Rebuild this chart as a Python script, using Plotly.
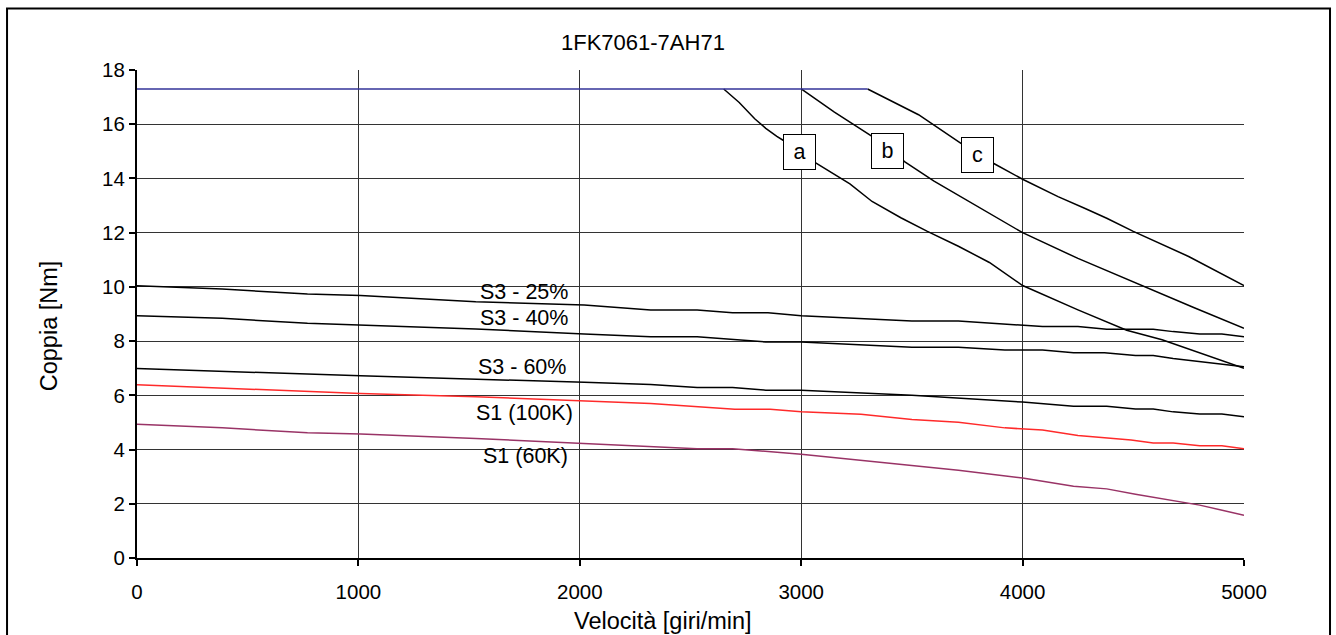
import plotly.graph_objects as go

# ---- data ----
title_text = "1FK7061-7AH71"

flat_x = [0, 3300]
flat_y = [17.3, 17.3]

a_x = [2650, 2720, 2790, 2840, 2890, 2920, 3060, 3130, 3220, 3320, 3450, 3570, 3710, 3850, 4000, 4250, 4470, 4630, 5000]
a_y = [17.3, 16.8, 16.2, 15.85, 15.55, 15.4, 14.6, 14.25, 13.8, 13.15, 12.55, 12.05, 11.5, 10.9, 10.05, 9.15, 8.4, 8.05, 7.0]

b_x = [3000, 3150, 3320, 3470, 3600, 3760, 4000, 4250, 4520, 4770, 5000]
b_y = [17.3, 16.45, 15.55, 14.6, 13.9, 13.15, 12.0, 11.05, 10.1, 9.25, 8.47]

c_x = [3300, 3530, 3720, 3870, 4000, 4160, 4280, 4380, 4500, 4750, 5000]
c_y = [17.3, 16.35, 15.3, 14.55, 13.97, 13.33, 12.9, 12.53, 12.05, 11.12, 10.05]

s3_25_x = [0, 385, 770, 1010, 1530, 2020, 2320, 2530, 2690, 2850, 3000, 3220, 3500, 3710, 4000, 4090, 4250, 4380, 4590, 4680, 4800, 4900, 5000]
s3_25_y = [10.04, 9.92, 9.74, 9.68, 9.45, 9.33, 9.15, 9.15, 9.05, 9.05, 8.94, 8.84, 8.74, 8.74, 8.6, 8.54, 8.54, 8.44, 8.44, 8.35, 8.26, 8.26, 8.16]

s3_40_x = [0, 385, 770, 1010, 1530, 2020, 2320, 2530, 2690, 2840, 3000, 3500, 3710, 3920, 4090, 4230, 4370, 4510, 4590, 4680, 5000]
s3_40_y = [8.94, 8.84, 8.66, 8.59, 8.45, 8.26, 8.16, 8.16, 8.07, 7.97, 7.97, 7.77, 7.77, 7.67, 7.67, 7.57, 7.57, 7.47, 7.47, 7.36, 7.05]

s3_60_x = [0, 1010, 2020, 2320, 2530, 2690, 2840, 3000, 3500, 4000, 4230, 4380, 4510, 4590, 4680, 4800, 4900, 5000]
s3_60_y = [6.99, 6.72, 6.48, 6.40, 6.29, 6.29, 6.19, 6.19, 6.0, 5.75, 5.6, 5.6, 5.5, 5.5, 5.39, 5.31, 5.31, 5.21]

s1_100_x = [0, 1010, 1530, 2020, 2320, 2700, 2860, 3000, 3270, 3500, 3710, 3920, 4090, 4250, 4490, 4590, 4680, 4800, 4900, 5000]
s1_100_y = [6.39, 6.07, 5.95, 5.80, 5.70, 5.49, 5.49, 5.39, 5.30, 5.11, 5.01, 4.80, 4.72, 4.52, 4.35, 4.24, 4.24, 4.14, 4.14, 4.03]

s1_60_x = [0, 385, 770, 1010, 1530, 2020, 2320, 2530, 2690, 3000, 3710, 4000, 4230, 4380, 4510, 4650, 4800, 5000]
s1_60_y = [4.93, 4.80, 4.62, 4.57, 4.41, 4.22, 4.12, 4.03, 4.03, 3.83, 3.24, 2.95, 2.65, 2.55, 2.35, 2.16, 1.95, 1.58]

curve_labels = ["S3 - 25%", "S3 - 40%", "S3 - 60%", "S1 (100K)", "S1 (60K)"]
curve_label_x = [1750, 1748, 1740, 1752, 1755]
curve_label_y = [9.82, 8.85, 7.05, 5.36, 3.77]

box_labels = ["a", "b", "c"]
box_x = [2991, 3392, 3797]
box_y = [14.98, 15.0, 14.88]

x_ticks = [0, 1000, 2000, 3000, 4000, 5000]
y_ticks = [0, 2, 4, 6, 8, 10, 12, 14, 16, 18]

FONT = "Liberation Sans, Arial, sans-serif"

fig = go.Figure()

def add_line(x, y, color):
    fig.add_trace(go.Scatter(x=x, y=y, mode="lines", line=dict(color=color, width=1.5),
                             showlegend=False, hoverinfo="skip"))

add_line(s3_25_x, s3_25_y, "black")
add_line(s3_40_x, s3_40_y, "black")
add_line(s3_60_x, s3_60_y, "black")
add_line(s1_100_x, s1_100_y, "#FF2A2A")
add_line(s1_60_x, s1_60_y, "#993366")
add_line(a_x, a_y, "black")
add_line(b_x, b_y, "black")
add_line(c_x, c_y, "black")
add_line(flat_x, flat_y, "#333399")

for t, x, y in zip(curve_labels, curve_label_x, curve_label_y):
    fig.add_annotation(x=x, y=y, xref="x", yref="y", text=t, showarrow=False,
                       xanchor="center", yanchor="middle",
                       font=dict(family=FONT, size=21.5, color="black"))

for t, x, y in zip(box_labels, box_x, box_y):
    fig.add_annotation(x=x, y=y, xref="x", yref="y", text=t, showarrow=False,
                       xanchor="center", yanchor="middle", width=29, height=32,
                       bgcolor="white", bordercolor="black", borderwidth=1, borderpad=1,
                       font=dict(family=FONT, size=21.5, color="black"))

# title and axis titles
fig.add_annotation(x=0.4571, y=1.057, xref="paper", yref="paper", text=title_text,
                   showarrow=False, xanchor="center", yanchor="middle",
                   font=dict(family=FONT, size=22, color="black"))
fig.add_annotation(x=0.475, y=-0.130, xref="paper", yref="paper", text="Velocità [giri/min]",
                   showarrow=False, xanchor="center", yanchor="middle",
                   font=dict(family=FONT, size=23.5, color="black"))
fig.add_annotation(x=-0.08, y=0.4758, xref="paper", yref="paper", text="Coppia [Nm]",
                   showarrow=False, xanchor="center", yanchor="middle", textangle=-90,
                   font=dict(family=FONT, size=23.5, color="black"))

# outer frame
fig.add_shape(type="rect", xref="paper", yref="paper",
              x0=-0.1174, x1=1.0777, y0=-0.17, y1=1.1258,
              line=dict(color="black", width=2), fillcolor="rgba(0,0,0,0)", layer="below")

fig.update_layout(
    width=1336, height=635,
    margin=dict(l=137, r=92, t=70, b=77),
    paper_bgcolor="white", plot_bgcolor="white",
    font=dict(family=FONT, size=20, color="black"),
    showlegend=False,
)
fig.update_xaxes(range=[0, 5000], tickvals=x_ticks, ticktext=[str(v) for v in x_ticks],
                 showgrid=True, gridcolor="#333333", gridwidth=1,
                 showline=True, linecolor="black", linewidth=2, mirror=False,
                 ticks="outside", ticklen=6, tickcolor="black", tickwidth=1.5,
                 ticklabelstandoff=8,
                 tickfont=dict(family=FONT, size=20.5), zeroline=False, fixedrange=True)
fig.update_yaxes(range=[0, 18], tickvals=y_ticks, ticktext=[str(v) for v in y_ticks],
                 showgrid=True, gridcolor="#333333", gridwidth=1,
                 showline=True, linecolor="black", linewidth=2, mirror=False,
                 ticks="outside", ticklen=6, tickcolor="black", tickwidth=1.5,
                 tickfont=dict(family=FONT, size=20.5), zeroline=False, fixedrange=True)

fig.write_html("out.html")
